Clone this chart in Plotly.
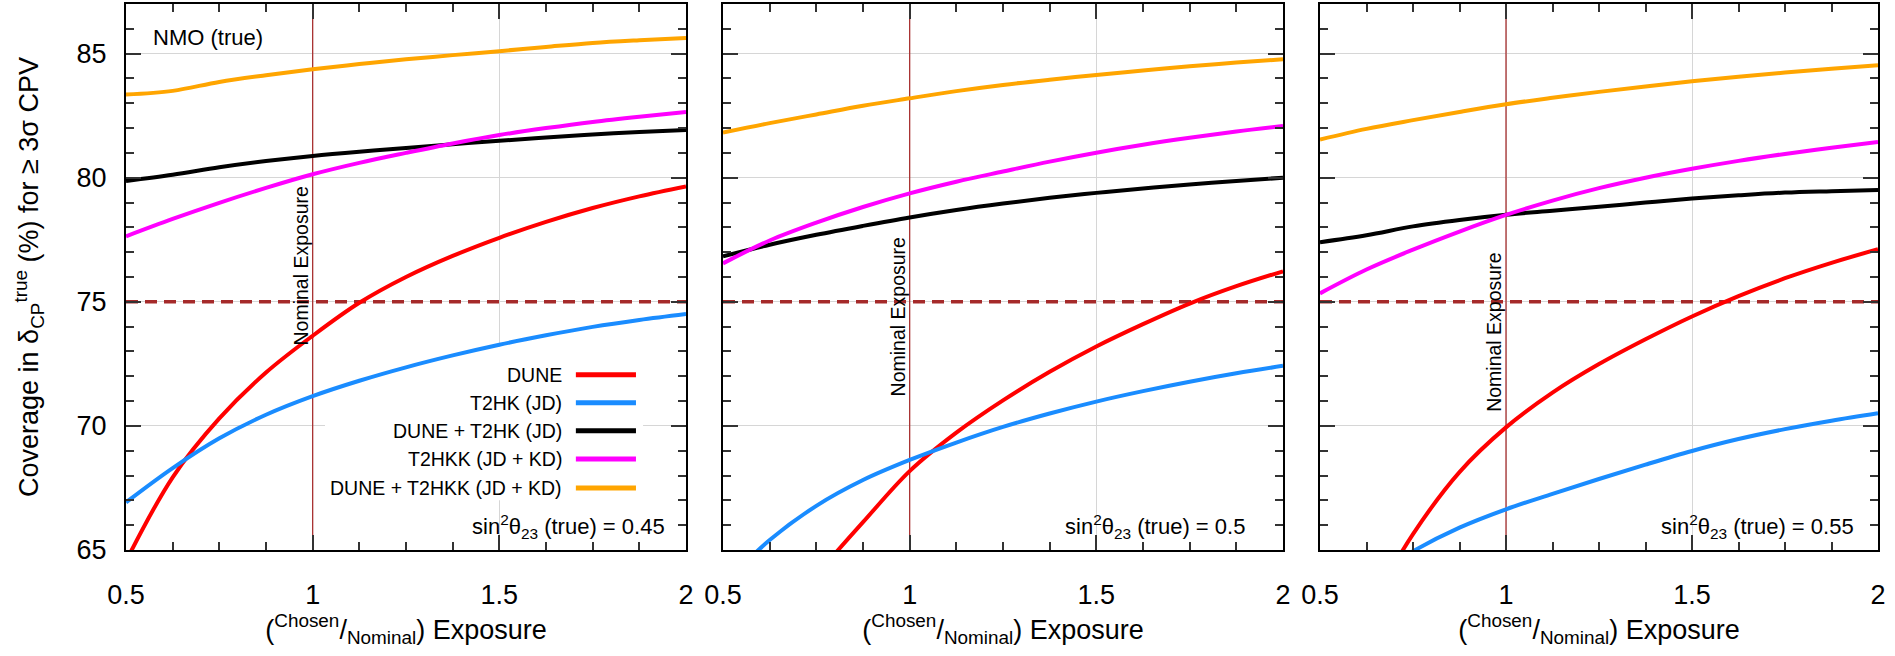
import plotly.graph_objects as go

# ---------------- data ----------------
exposure = [0.5, 0.625, 0.75, 0.875, 1.0, 1.125, 1.25, 1.375, 1.5, 1.625, 1.75, 1.875, 2.0]

series_names = ["DUNE", "T2HK (JD)", "DUNE + T2HK (JD)", "T2HKK (JD + KD)", "DUNE + T2HKK (JD + KD)"]
series_colors = ["#ff0000", "#1a8cff", "#000000", "#ff00ff", "#ffa500"]

# sin^2 theta23 (true) = 0.45
s045_dune = [64.55, 67.93, 70.3, 72.15, 73.63, 74.96, 76.0, 76.85, 77.58, 78.22, 78.78, 79.25, 79.65]
s045_t2hk = [66.92, 68.3, 69.5, 70.45, 71.2, 71.82, 72.36, 72.84, 73.27, 73.65, 73.99, 74.27, 74.51]
s045_dune_t2hk = [79.87, 80.12, 80.42, 80.67, 80.88, 81.05, 81.2, 81.35, 81.49, 81.62, 81.74, 81.84, 81.92]
s045_t2hkk = [77.64, 78.34, 78.99, 79.59, 80.14, 80.6, 81.0, 81.38, 81.72, 82.0, 82.25, 82.46, 82.65]
s045_dune_t2hkk = [83.35, 83.5, 83.86, 84.13, 84.37, 84.58, 84.77, 84.94, 85.10, 85.27, 85.43, 85.54, 85.63]

# sin^2 theta23 (true) = 0.5
s050_dune = [59.3, 61.8, 64.0, 66.12, 68.18, 69.73, 71.03, 72.18, 73.2, 74.1, 74.93, 75.63, 76.23]
s050_t2hk = [63.6, 65.4, 66.78, 67.82, 68.63, 69.33, 69.96, 70.5, 70.98, 71.4, 71.78, 72.12, 72.42]
s050_dune_t2hk = [76.83, 77.3, 77.7, 78.06, 78.4, 78.7, 78.96, 79.19, 79.39, 79.57, 79.73, 79.87, 80.0]
s050_t2hkk = [76.55, 77.47, 78.19, 78.82, 79.37, 79.84, 80.25, 80.65, 81.01, 81.33, 81.61, 81.86, 82.08]
s050_dune_t2hkk = [81.82, 82.2, 82.55, 82.9, 83.2, 83.49, 83.74, 83.95, 84.14, 84.32, 84.49, 84.64, 84.77]

# sin^2 theta23 (true) = 0.55
s055_dune = [58.9, 62.44, 65.64, 68.14, 69.94, 71.34, 72.49, 73.49, 74.41, 75.23, 75.95, 76.57, 77.12]
s055_t2hk = [62.3, 63.75, 64.95, 65.9, 66.64, 67.26, 67.86, 68.44, 68.99, 69.47, 69.87, 70.21, 70.51]
s055_dune_t2hk = [77.40, 77.68, 78.04, 78.30, 78.51, 78.67, 78.83, 79.0, 79.16, 79.29, 79.40, 79.46, 79.51]
s055_t2hkk = [75.34, 76.3, 77.1, 77.83, 78.5, 79.08, 79.58, 80.0, 80.36, 80.68, 80.96, 81.21, 81.44]
s055_dune_t2hkk = [81.54, 81.97, 82.32, 82.65, 82.96, 83.22, 83.46, 83.68, 83.89, 84.07, 84.24, 84.39, 84.53]

panel_labels = ["sin<sup>2</sup>θ<sub>23</sub> (true) = 0.45",
                "sin<sup>2</sup>θ<sub>23</sub> (true) = 0.5",
                "sin<sup>2</sup>θ<sub>23</sub> (true) = 0.55"]

panels = [
    [s045_dune, s045_t2hk, s045_dune_t2hk, s045_t2hkk, s045_dune_t2hkk],
    [s050_dune, s050_t2hk, s050_dune_t2hk, s050_t2hkk, s050_dune_t2hkk],
    [s055_dune, s055_t2hk, s055_dune_t2hk, s055_t2hkk, s055_dune_t2hkk],
]

threshold = 75
nominal = 1.0
y_range = [65, 87]
x_range = [0.5, 2.0]

# ---------------- figure ----------------
W, H = 1895, 656
ML, MR, MT, MB = 126, 17, 4, 106
plot_w = W - ML - MR
panel_px = [(126, 686), (723, 1283), (1320, 1878)]
domains = [[(a - ML) / plot_w, (b - ML) / plot_w] for a, b in panel_px]

FONT = "Liberation Sans, Arial, Helvetica, sans-serif"
fig = go.Figure()

for i, values in enumerate(panels):
    xa = "x" if i == 0 else f"x{i+1}"
    ya = "y" if i == 0 else f"y{i+1}"
    for name, color, yv in zip(series_names, series_colors, values):
        fig.add_trace(go.Scatter(
            x=exposure, y=yv, mode="lines", name=name,
            line=dict(color=color, width=4, shape="spline", smoothing=1.0),
            xaxis=xa, yaxis=ya, showlegend=False, hoverinfo="x+y+name"))

shapes = []
annotations = []
axis_common = dict(
    showline=True, linecolor="#000000", linewidth=2, mirror="allticks",
    ticks="inside", ticklen=15, tickwidth=1.5, tickcolor="#333333",
    showgrid=True, gridcolor="#d6d6d6", gridwidth=1, zeroline=False,
    tickfont=dict(family=FONT, size=27, color="#000000"),
    ticklabeloverflow="allow",
)

for i in range(3):
    sfx = "" if i == 0 else str(i + 1)
    xref = "x" + sfx
    yref = "y" + sfx
    fig.layout["xaxis" + sfx] = dict(
        axis_common, domain=domains[i], range=x_range, anchor=yref,
        tickmode="linear", tick0=0.5, dtick=0.5,
        minor=dict(dtick=0.125, tick0=0.5, ticks="inside", ticklen=8, tickwidth=1.5,
                   tickcolor="#333333", showgrid=False),
        ticklabelstandoff=20,
        title=dict(text="(<sup>Chosen</sup>/<sub>Nominal</sub>) Exposure",
                   font=dict(family=FONT, size=27, color="#000000"), standoff=8),
    )
    fig.layout["yaxis" + sfx] = dict(
        axis_common, domain=[0, 1], range=y_range, anchor=xref,
        tickmode="linear", tick0=65, dtick=5,
        minor=dict(dtick=1, tick0=65, ticks="inside", ticklen=8, tickwidth=1.5,
                   tickcolor="#333333", showgrid=False),
        showticklabels=(i == 0), ticklabelstandoff=12,
    )
    # threshold dashed line
    shapes.append(dict(type="line", xref=xref, yref=yref, x0=x_range[0], x1=x_range[1],
                       y0=threshold, y1=threshold, layer="between",
                       line=dict(color="#a52a2a", width=3.5, dash="12px,7px")))
    # nominal exposure line
    shapes.append(dict(type="line", xref=xref, yref=yref, x0=nominal, x1=nominal,
                       y0=y_range[0], y1=y_range[1], layer="between",
                       line=dict(color="#a83030", width=1.3)))
    nom_y = [76.45, 74.4, 73.75][i]
    annotations.append(dict(xref=xref, yref=yref, x=nominal, y=nom_y, text="Nominal Exposure",
                            textangle=-90, showarrow=False, xanchor="right", yanchor="middle",
                            xshift=1, font=dict(family=FONT, size=19.5, color="#000000")))
    lab_x = [1.949, 1.904, 1.941][i]
    annotations.append(dict(xref=xref, yref=yref, x=lab_x, y=65.93, text=panel_labels[i],
                            showarrow=False, xanchor="right", yanchor="middle",
                            font=dict(family=FONT, size=22, color="#000000")))

# NMO label
annotations.append(dict(xref="x", yref="y", x=0.567, y=85.65, text="NMO (true)", showarrow=False,
                        xanchor="left", yanchor="middle",
                        font=dict(family=FONT, size=22, color="#000000")))

# key (legend) in first panel
shapes.append(dict(type="rect", xref="x", yref="y", x0=1.033, x1=1.885, y0=67.0, y1=73.19,
                   layer="between", fillcolor="#ffffff", line=dict(width=0)))
key_rows = [72.06, 70.93, 69.8, 68.67, 67.5]
for name, color, yy in zip(series_names, series_colors, key_rows):
    annotations.append(dict(xref="x", yref="y", x=1.673, y=yy, text=name, showarrow=False,
                            xanchor="right", yanchor="middle",
                            font=dict(family=FONT, size=19.5, color="#000000")))
    shapes.append(dict(type="line", xref="x", yref="y", x0=1.705, x1=1.866, y0=yy, y1=yy,
                       layer="above", line=dict(color=color, width=5)))

fig.update_layout(
    width=W, height=H, margin=dict(l=ML, r=MR, t=MT, b=MB, autoexpand=False),
    paper_bgcolor="#ffffff", plot_bgcolor="#ffffff",
    shapes=shapes, annotations=annotations, showlegend=False,
    font=dict(family=FONT, color="#000000"),
)
fig.layout.yaxis.title = dict(text="Coverage in δ<sub>CP</sub><sup>true</sup> (%) for ≥ 3σ CPV",
                              font=dict(family=FONT, size=27, color="#000000"), standoff=30)

fig.write_html("out.html", config={"displayModeBar": False},
               post_script="document.body.style.margin='0';document.body.style.overflow='hidden';")
